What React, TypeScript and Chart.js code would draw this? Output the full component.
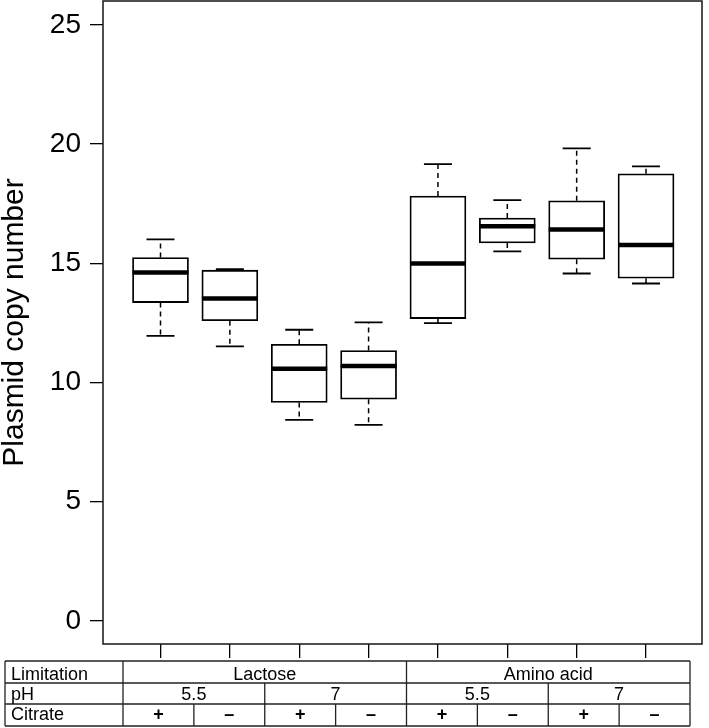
import React, { useEffect, useRef } from "react";
import { Chart, registerables } from "chart.js";

Chart.register(...registerables);

const positions = [1, 2, 3, 4, 5, 6, 7, 8];
const whiskerLow = [11.95, 11.51, 8.43, 8.22, 12.49, 15.5, 14.57, 14.15];
const q1 = [13.35, 12.59, 9.16, 9.3, 12.68, 15.85, 15.17, 14.37];
const median = [14.61, 13.52, 10.57, 10.69, 14.99, 16.55, 16.42, 15.77];
const q3 = [15.24, 14.71, 11.6, 11.34, 17.82, 16.9, 17.62, 18.75];
const whiskerHigh = [16.0, 14.75, 12.21, 12.52, 19.16, 17.65, 19.82, 19.06];
const yTicks = [0, 5, 10, 15, 20, 25];
const yTitle = "Plasmid copy number";
const rowHeaders = ["Limitation", "pH", "Citrate"];
const limitationLabels = ["Lactose", "Amino acid"];
const phLabels = ["5.5", "7", "5.5", "7"];
const citrateLabels = ["+", "\u2013", "+", "\u2013", "+", "\u2013", "+", "\u2013"];

const FONT = '"Liberation Sans", Arial, Helvetica, sans-serif';

const boxPlugin = {
  id: "boxplotParts",
  afterDatasetsDraw(chart: any) {
    const ctx = chart.ctx;
    const xs = chart.scales.x;
    const ys = chart.scales.y;
    const meta = chart.getDatasetMeta(0);
    ctx.save();
    ctx.strokeStyle = "#000";
    positions.forEach((p, i) => {
      const cx = xs.getPixelForValue(p);
      const w = meta.data[i] ? meta.data[i].width : 56;
      const yMed = ys.getPixelForValue(median[i]);
      const yQ1 = ys.getPixelForValue(q1[i]);
      const yQ3 = ys.getPixelForValue(q3[i]);
      const yLo = ys.getPixelForValue(whiskerLow[i]);
      const yHi = ys.getPixelForValue(whiskerHigh[i]);
      ctx.setLineDash([5, 4]);
      ctx.lineWidth = 1.5;
      ctx.beginPath();
      ctx.moveTo(cx, yQ3);
      ctx.lineTo(cx, yHi);
      ctx.moveTo(cx, yQ1);
      ctx.lineTo(cx, yLo);
      ctx.stroke();
      ctx.setLineDash([]);
      ctx.lineWidth = 1.8;
      ctx.beginPath();
      ctx.moveTo(cx - w / 4, yHi);
      ctx.lineTo(cx + w / 4, yHi);
      ctx.moveTo(cx - w / 4, yLo);
      ctx.lineTo(cx + w / 4, yLo);
      ctx.stroke();
      ctx.lineWidth = 4.5;
      ctx.beginPath();
      ctx.moveTo(cx - w / 2, yMed);
      ctx.lineTo(cx + w / 2, yMed);
      ctx.stroke();
    });
    ctx.restore();
  },
  afterDraw(chart: any) {
    const ctx = chart.ctx;
    const a = chart.chartArea;
    ctx.save();
    ctx.strokeStyle = "#222";
    ctx.lineWidth = 1.6;
    ctx.strokeRect(a.left, a.top, a.right - a.left, a.bottom - a.top);

    const left = 5;
    const right = 690;
    const colStart = 123;
    const rows = [661, 683, 704, 726];
    const baselines = [680, 700, 720];
    const n = citrateLabels.length;
    const cw = (right - colStart) / n;
    ctx.strokeStyle = "#222";
    ctx.lineWidth = 1.3;
    ctx.beginPath();
    rows.forEach((y) => {
      ctx.moveTo(left, y);
      ctx.lineTo(right, y);
    });
    ctx.moveTo(left, rows[0]);
    ctx.lineTo(left, rows[3]);
    ctx.moveTo(right, rows[0]);
    ctx.lineTo(right, rows[3]);
    ctx.moveTo(colStart, rows[0]);
    ctx.lineTo(colStart, rows[3]);
    const gStep = n / limitationLabels.length;
    for (let k = 1; k < limitationLabels.length; k++) {
      const x = colStart + cw * gStep * k;
      ctx.moveTo(x, rows[0]);
      ctx.lineTo(x, rows[3]);
    }
    const pStep = n / phLabels.length;
    for (let k = 1; k < phLabels.length; k++) {
      const x = colStart + cw * pStep * k;
      ctx.moveTo(x, rows[1]);
      ctx.lineTo(x, rows[3]);
    }
    for (let k = 1; k < n; k++) {
      const x = colStart + cw * k;
      ctx.moveTo(x, rows[2]);
      ctx.lineTo(x, rows[3]);
    }
    ctx.stroke();

    ctx.fillStyle = "#000";
    ctx.font = `18px ${FONT}`;
    ctx.textBaseline = "alphabetic";
    ctx.textAlign = "left";
    rowHeaders.forEach((t, r) => ctx.fillText(t, 11, baselines[r]));
    ctx.textAlign = "center";
    limitationLabels.forEach((t, k) => {
      ctx.fillText(t, colStart + cw * gStep * (k + 0.5), baselines[0]);
    });
    phLabels.forEach((t, k) => {
      ctx.fillText(t, colStart + cw * pStep * (k + 0.5), baselines[1]);
    });
    ctx.font = `bold 18px ${FONT}`;
    citrateLabels.forEach((t, k) => {
      ctx.fillText(t, colStart + cw * (k + 0.5), baselines[2]);
    });
    ctx.restore();
  },
};

export default function App() {
  const ref = useRef<HTMLCanvasElement | null>(null);
  useEffect(() => {
    if (!ref.current) return;
    const chart = new Chart(ref.current, {
      type: "bar",
      data: {
        datasets: [
          {
            data: positions.map((p, i) => ({ x: p, y: [q1[i], q3[i]] })) as any,
            backgroundColor: "#fff",
            borderColor: "#000",
            borderWidth: 1.8,
            borderSkipped: false,
            barThickness: 56,
          } as any,
        ],
      },
      options: {
        responsive: false,
        animation: false,
        layout: { padding: { top: 1, right: 7, left: 0, bottom: 0 } },
        plugins: {
          legend: { display: false },
          tooltip: { enabled: false },
        },
        scales: {
          x: {
            type: "linear",
            offset: false,
            min: 0.171,
            max: 8.807,
            afterBuildTicks: (s: any) => {
              s.ticks = positions.map((v) => ({ value: v }));
            },
            afterFit: (s: any) => {
              s.height = 84;
              s.paddingLeft = 0;
              s.paddingRight = 0;
            },
            grid: {
              offset: false,
              drawOnChartArea: false,
              drawTicks: true,
              tickLength: 14,
              color: "#000",
              lineWidth: 1.3,
            },
            border: { display: false },
            ticks: { callback: () => "", autoSkip: false },
          },
          y: {
            min: -0.97,
            max: 26.0,
            afterBuildTicks: (s: any) => {
              s.ticks = yTicks.map((v) => ({ value: v }));
            },
            afterFit: (s: any) => {
              s.width = 103;
              s.paddingTop = 0;
              s.paddingBottom = 0;
            },
            grid: {
              drawOnChartArea: false,
              drawTicks: true,
              tickLength: 13,
              color: "#000",
              lineWidth: 1.3,
            },
            border: { display: false },
            ticks: {
              font: { size: 28, family: FONT },
              color: "#000",
              padding: 9,
            },
            title: {
              display: true,
              text: yTitle,
              color: "#000",
              font: { size: 30, family: FONT, lineHeight: 1 },
              padding: { top: 0, bottom: 0 },
            },
          },
        },
      } as any,
      plugins: [boxPlugin],
    });
    return () => chart.destroy();
  }, []);
  return (
    <div style={{ position: "fixed", left: 0, top: 0, width: 709, height: 728, background: "#fff" }}>
      <canvas ref={ref} width={709} height={728} style={{ display: "block" }} />
    </div>
  );
}
